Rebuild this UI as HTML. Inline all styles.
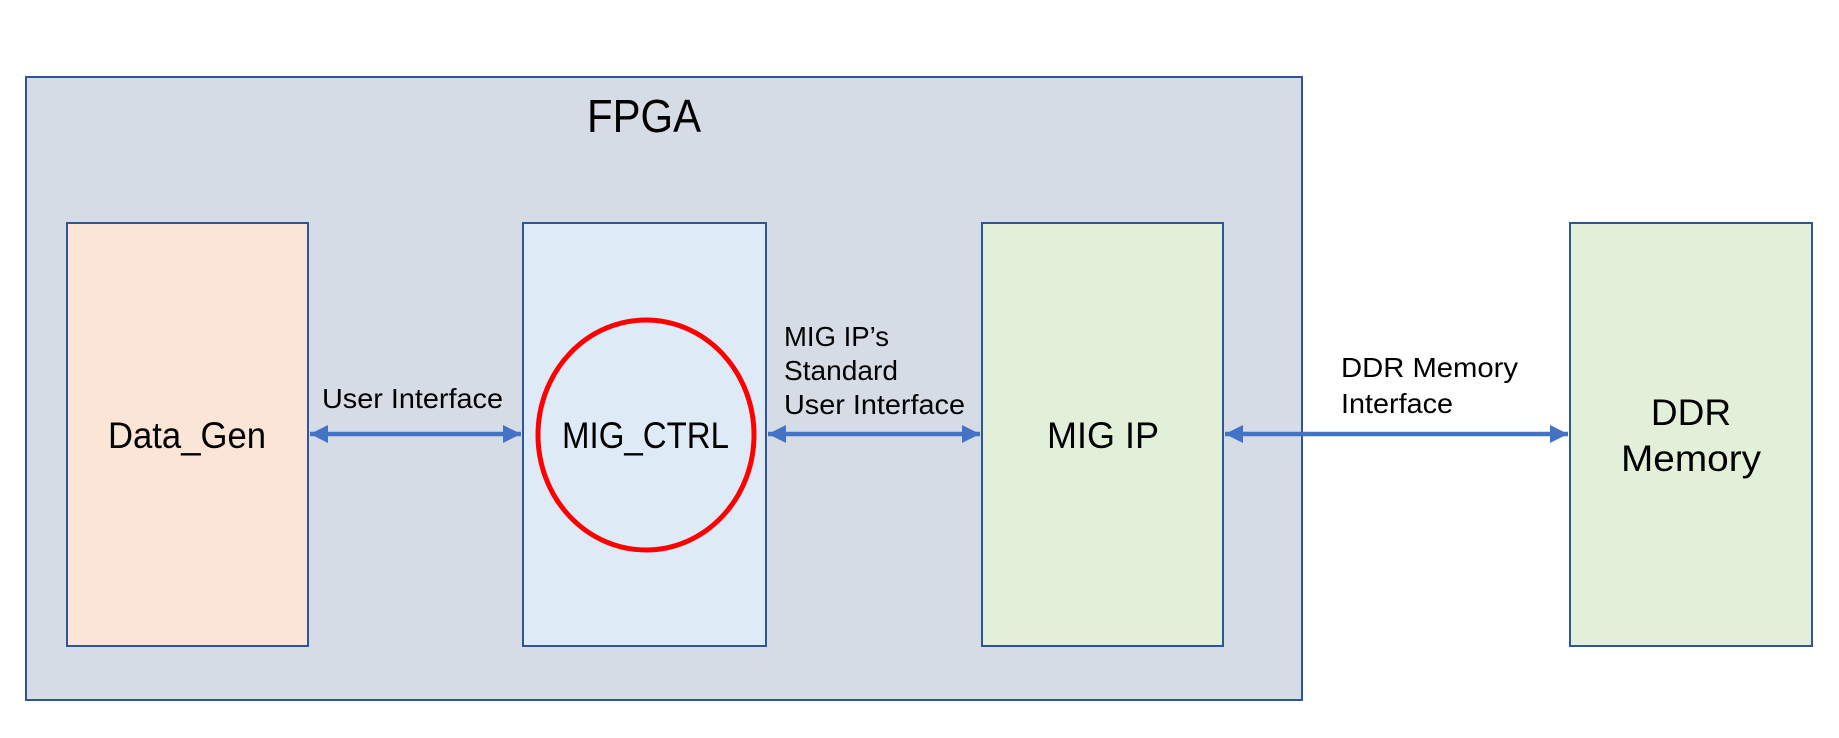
<!DOCTYPE html>
<html><head><meta charset="utf-8"><style>html,body{margin:0;padding:0;background:#fff}svg{display:block}</style></head>
<body>
<svg width="1839" height="738" viewBox="0 0 1839 738" xmlns="http://www.w3.org/2000/svg" font-family="Liberation Sans, sans-serif" fill="#000">
<defs>
<marker id="a" viewBox="0 0 10 10" refX="10" refY="5" markerWidth="4" markerHeight="4" orient="auto-start-reverse" markerUnits="strokeWidth">
<path d="M0,0 L10,5 L0,10 z" fill="#4472C4"/></marker>
</defs>
<rect x="26" y="77" width="1276" height="623" fill="#D6DCE5" stroke="#2F5597" stroke-width="2"/>
<text x="644" y="132" font-size="46" text-anchor="middle" textLength="114" lengthAdjust="spacingAndGlyphs">FPGA</text>
<rect x="67" y="223" width="241" height="423" fill="#FBE5D6" stroke="#2F5597" stroke-width="2"/>
<rect x="523" y="223" width="243" height="423" fill="#DEEBF7" stroke="#2F5597" stroke-width="2"/>
<rect x="982" y="223" width="241" height="423" fill="#E2F0D9" stroke="#2F5597" stroke-width="2"/>
<rect x="1570" y="223" width="242" height="423" fill="#E2F0D9" stroke="#2F5597" stroke-width="2"/>
<ellipse cx="646" cy="435" rx="108" ry="115" fill="none" stroke="#FF0000" stroke-width="5"/>
<g stroke="#4472C4" stroke-width="4.5" fill="none">
<line x1="310" y1="434" x2="521" y2="434" marker-start="url(#a)" marker-end="url(#a)"/>
<line x1="768" y1="434" x2="980" y2="434" marker-start="url(#a)" marker-end="url(#a)"/>
<line x1="1225" y1="434" x2="1568" y2="434" marker-start="url(#a)" marker-end="url(#a)"/>
</g>
<g font-size="37">
<text x="108" y="448" textLength="158" lengthAdjust="spacingAndGlyphs">Data_Gen</text>
<text x="562" y="448" textLength="167" lengthAdjust="spacingAndGlyphs">MIG_CTRL</text>
<text x="1047" y="448" textLength="112" lengthAdjust="spacingAndGlyphs">MIG IP</text>
<text x="1691" y="425" text-anchor="middle">DDR</text>
<text x="1621" y="471" textLength="140" lengthAdjust="spacingAndGlyphs">Memory</text>
</g>
<g font-size="28">
<text x="322" y="408" textLength="181" lengthAdjust="spacingAndGlyphs">User Interface</text>
<text x="784" y="346" textLength="105" lengthAdjust="spacingAndGlyphs">MIG IP’s</text>
<text x="784" y="380" textLength="114" lengthAdjust="spacingAndGlyphs">Standard</text>
<text x="784" y="414" textLength="181" lengthAdjust="spacingAndGlyphs">User Interface</text>
<text x="1341" y="377" textLength="177" lengthAdjust="spacingAndGlyphs">DDR Memory</text>
<text x="1341" y="413" textLength="112" lengthAdjust="spacingAndGlyphs">Interface</text>
</g>
</svg>
</body></html>
